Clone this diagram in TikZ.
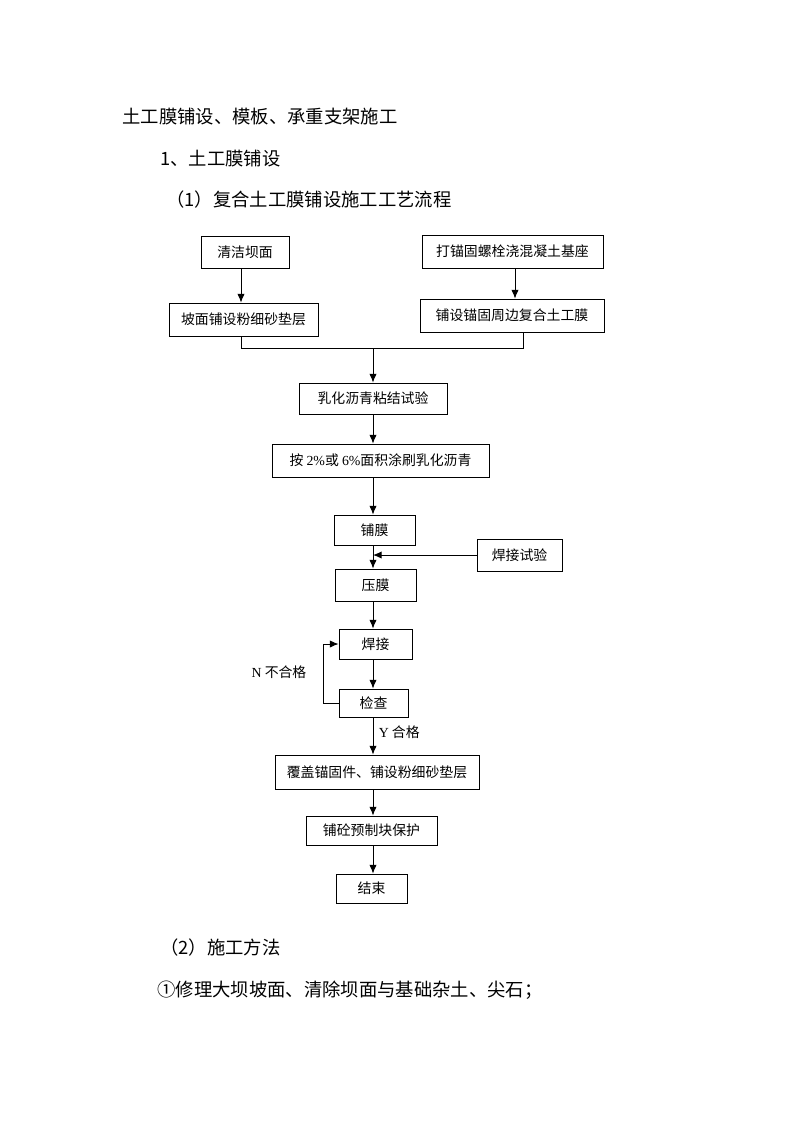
\documentclass[tikz,border=0pt]{standalone}
\usepackage{fontspec}
\setmainfont{Liberation Serif}
\newfontfamily\cjk{Noto Sans CJK SC}
\usetikzlibrary{arrows.meta}

\begin{document}
\begin{tikzpicture}[
    x=0.75pt,
    y=-0.75pt,
    line width=0.7pt,
    >={Latex[length=6.5pt,width=5.5pt]},
    kuang/.style 2 args={draw, inner sep=0pt, minimum width=#1*0.75pt,
        minimum height=#2*0.75pt, font=\cjk\fontsize{10.4}{12}\selectfont},
    biaoti/.style={anchor=west, inner sep=0pt, font=\cjk\fontsize{13.75}{16}\selectfont},
    zhu/.style={inner sep=0pt, font=\cjk\fontsize{10.4}{12}\selectfont}
]
    \useasboundingbox (0,0) rectangle (793,1122);

    % 标题
    \node[biaoti] (t1) at (122,117) {土工膜铺设、模板、承重支架施工};
    \node[biaoti] (t2) at (160,159) {1、土工膜铺设};
    \node[biaoti] (t3) at (166,200) {（1）复合土工膜铺设施工工艺流程};
    \node[biaoti] (t4) at (160,948) {（2）施工方法};
    \node[biaoti] (t5) at (157,990) {①修理大坝坡面、清除坝面与基础杂土、尖石；};

    % 主线位置
    \coordinate (zhou) at (373,0);
    \coordinate (zuo) at (241,348);
    \coordinate (you) at (523,348);

    % 流程框
    \node[kuang={88}{32}] (qingjie) at (245,252) {清洁坝面};
    \node[kuang={181}{33}] (dada) at (512.5,251.5) {打锚固螺栓浇混凝土基座};
    \node[kuang={149}{33}] (podian) at (243.5,319.5) {坡面铺设粉细砂垫层};
    \node[kuang={184}{33}] (puse) at (512,315.5) {铺设锚固周边复合土工膜};
    \node[kuang={148}{31}] (ruhua) at (373,398.5) {乳化沥青粘结试验};
    \node[kuang={217}{33}] (tushua) at (380.5,460.5)
        {按 {\rmfamily 2\%}或 {\rmfamily 6\%}面积涂刷乳化沥青};
    \node[kuang={81}{30}] (pumo) at (374.5,530) {铺膜};
    \node[kuang={85}{32}] (shiyan) at (519.5,555) {焊接试验};
    \node[kuang={81}{32}] (yamo) at (375.5,585) {压膜};
    \node[kuang={73}{30}] (hanjie) at (375.5,644) {焊接};
    \node[kuang={69}{28}] (jiancha) at (373.5,703) {检查};
    \node[kuang={204}{34}] (fugai) at (377,772) {覆盖锚固件、铺设粉细砂垫层};
    \node[kuang={131}{29}] (baohu) at (371.5,830.5) {铺砼预制块保护};
    \node[kuang={71}{29}] (jieshu) at (371.5,888.5) {结束};

    % 上部两支
    \draw[->] (qingjie.south -| zuo) -- (podian.north -| zuo);
    \draw[->] (dada.south -| 515,0) -- (puse.north -| 515,0);
    \draw (podian.south -| zuo) -- (zuo) -- (you) -- (puse.south -| you);
    \draw[->] (zuo -| zhou) -- (ruhua.north -| zhou);

    % 主线
    \draw[->] (ruhua.south -| zhou) -- (tushua.north -| zhou);
    \draw[->] (tushua.south -| zhou) -- (pumo.north -| zhou);
    \draw[->] (pumo.south -| zhou) -- (yamo.north -| zhou);
    \draw[->] (shiyan.west) -- (shiyan.west -| zhou);
    \draw[->] (yamo.south -| zhou) -- (hanjie.north -| zhou);
    \draw[->] (hanjie.south -| zhou) -- (jiancha.north -| zhou);
    \draw[->] (jiancha.south -| zhou) -- (fugai.north -| zhou)
        node[zhu, pos=0.4, right=4pt] (ok) {{\rmfamily Y} 合格};
    \draw[->] (fugai.south -| zhou) -- (baohu.north -| zhou);
    \draw[->] (baohu.south -| zhou) -- (jieshu.north -| zhou);

    % 不合格返回
    \draw[->] (jiancha.west) -- ++(-15,0) |- (hanjie.west);
    \node[zhu] (bad) at (279,672) {{\rmfamily N} 不合格};

\end{tikzpicture}
\end{document}
